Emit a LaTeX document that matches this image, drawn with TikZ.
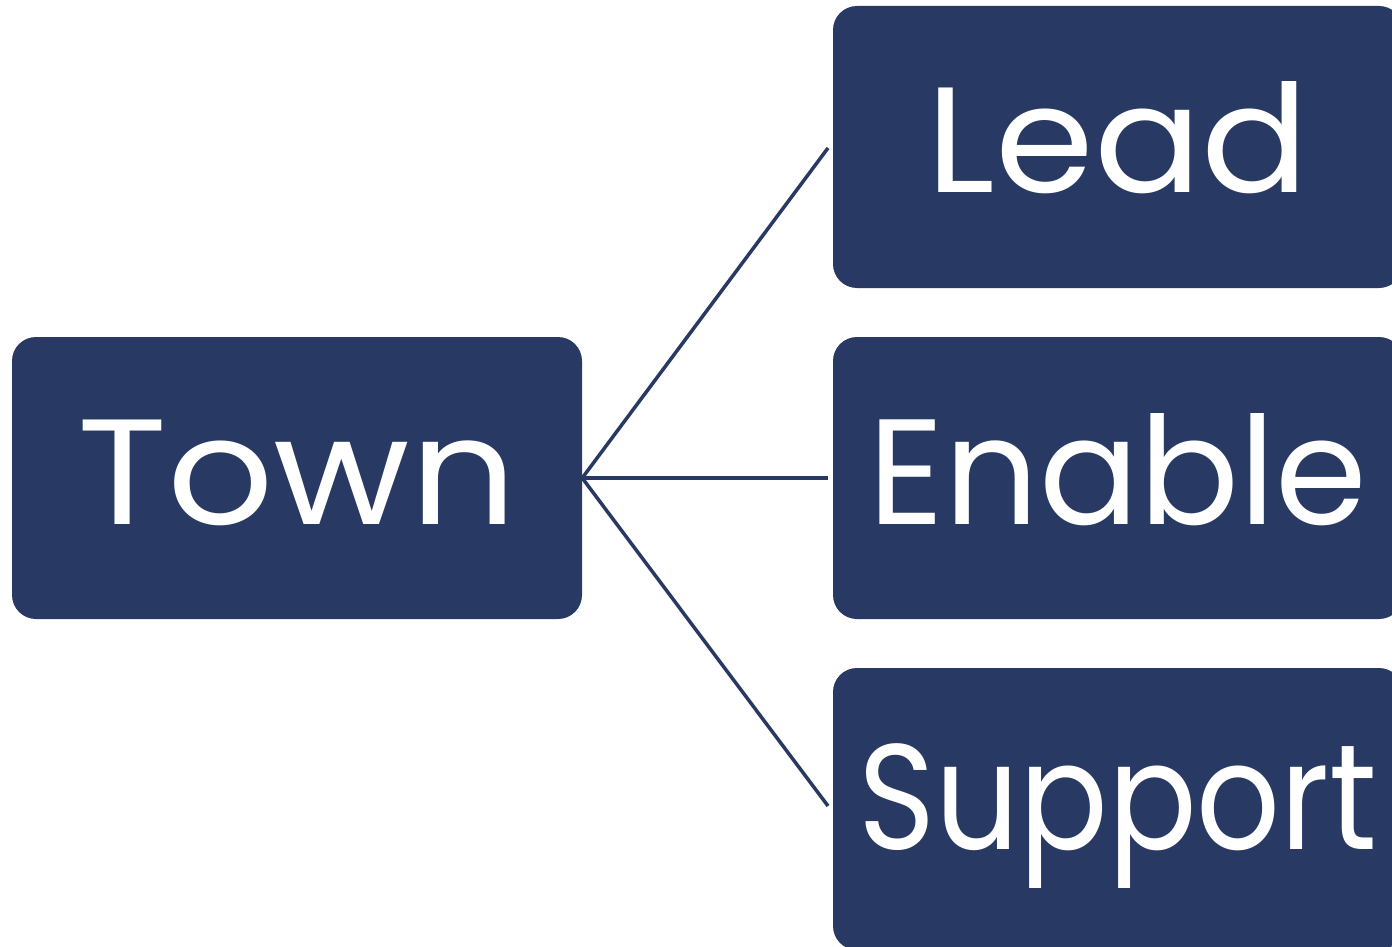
\documentclass[tikz,border=0pt]{standalone}
\usepackage{fontspec}
\usepackage{graphicx}
\setmainfont{Poppins}
\definecolor{navy}{HTML}{283963}
\newcommand{\boxtext}[2]{\makebox[0pt]{\scalebox{#1}[1]{#2}}}
\begin{document}
\begin{tikzpicture}[x=1pt,y=-1pt,
  box/.style={fill=navy, rounded corners=24pt, minimum width=570pt, minimum height=282pt, inner sep=0pt, text height=92pt, text depth=0pt, text=white, font=\fontsize{150}{150}\selectfont},
  conn/.style={draw=navy, line width=3.5pt}]
\useasboundingbox (0,0) rectangle (1392,947);
\clip (0,0) rectangle (1392,947);
\node[box] (town) at (297,478) {\boxtext{1.11}{Town}};
\node[box] (lead) at (1118,147) {\boxtext{1.06}{Lead}};
\node[box] (enable) at (1118,478) {\boxtext{0.985}{Enable}};
\node[box] (support) at (1118,809) {\boxtext{0.875}{\raisebox{6pt}{Support}}};
\coordinate (c1) at (828,148);
\coordinate (c2) at (828,478);
\coordinate (c3) at (828,806);
\draw[conn] (town.east) -- (c1);
\draw[conn] (town.east) -- (c2);
\draw[conn] (town.east) -- (c3);
\end{tikzpicture}
\end{document}
